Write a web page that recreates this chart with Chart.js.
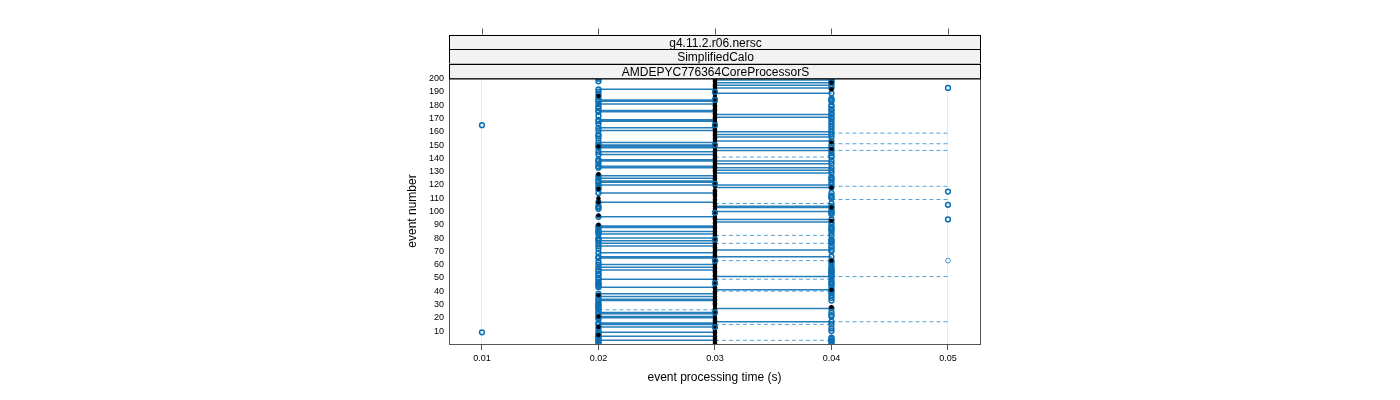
<!DOCTYPE html>
<html>
<head>
<meta charset="utf-8">
<script src="https://cdn.jsdelivr.net/npm/chart.js@4/dist/chart.umd.min.js"></script>
<style>
  body { margin: 0; background: #fff; }
  #wrap { width: 1400px; height: 400px; }
</style>
</head>
<body>
<div id="wrap"><canvas id="timing" width="1400" height="400"></canvas></div>
<script>
// ---- data (event numbers per kind of mark) ----
const stripLabels = ["g4.11.2.r06.nersc", "SimplifiedCalo", "AMDEPYC776364CoreProcessorS"];
const xTicks = [0.01, 0.02, 0.03, 0.04, 0.05];
const yTicks = [10, 20, 30, 40, 50, 60, 70, 80, 90, 100, 110, 120, 130, 140, 150, 160, 170, 180, 190, 200];
const nEvents = 200;

// solid lines 0.02 -> 0.03
const leftSolid = [192, 184, 183, 181, 176, 175, 169, 168, 163, 161, 152, 150, 149, 148, 145, 143, 139, 138, 134,
  133, 127, 125, 123, 122, 120, 114, 107, 96, 89, 88, 85, 83, 80, 78, 76, 74, 69, 66,
  65, 60, 58, 56, 49, 43, 38, 36, 34, 33, 24, 23, 21, 20, 16, 15, 13, 9, 6, 3];
const leftDashed = [26];
// solid / dashed lines 0.03 -> 0.04
const rightSolid = [199, 197, 195, 193, 189, 173, 171, 160, 158, 156, 153, 148, 146, 138, 136, 133, 131, 129,
  120, 118, 104, 103, 100, 94, 92, 71, 66, 51, 41, 27, 17];
const rightDashed = [141, 106, 82, 76, 63, 49, 40, 15, 3];
// dashed lines 0.04 -> 0.05
const farDashed = [159, 151, 146, 119, 109, 51, 17];

// open circles
const circles001 = [165, 9];
const circles002Extra = [200, 198, 190, 188, 186, 179, 178, 172, 166, 158, 157, 155, 136, 118, 117, 104, 103, 102, 86, 84,
  79, 72, 62, 55, 53, 52, 50, 47, 46, 45, 44, 31, 30, 29, 28, 27, 19, 11, 8, 7, 5, 4, 2, 1];
const circles003 = [190, 184, 165, 150, 121, 99, 79, 63, 46, 24, 13];
const circles004Extra = [200, 198, 185, 184, 183, 180, 179, 177, 176, 174, 170, 168, 166, 164, 162, 150, 144, 142, 126, 125,
  124, 122, 114, 112, 111, 110, 101, 99, 98, 90, 88, 87, 86, 84, 79, 78, 77, 74, 73, 70, 62, 60, 58, 57, 56, 55, 54,
  53, 52, 47, 46, 45, 43, 39, 37, 35, 33, 24, 22, 21, 12, 10, 5, 4, 2, 1];
const circles005 = [193, 115, 105, 94];
const circles005Light = [63];

// filled black dots
const black002 = [187, 149, 128, 117, 110, 107, 97, 90, 37, 21, 13, 7];
const black004 = [197, 192, 152, 147, 118, 103, 93, 63, 41, 28];

const BLUE = "rgba(0, 105, 175, 0.85)";
const BLUE_DASH = "rgba(30, 130, 200, 0.75)";

// build broken line data: one segment per event, split by NaN points
function segments(events, x0, x1) {
  const pts = [];
  events.forEach(e => {
    pts.push({ x: x0, y: e }, { x: x1, y: e }, { x: NaN, y: NaN });
  });
  return pts;
}
const atX = (events, x) => events.map(e => ({ x: x, y: e }));

const black003 = [];
for (let e = 1; e <= nEvents; e++) {
  if (!black002.includes(e) && !black004.includes(e)) black003.push(e);
}

// frame, strips, top ticks and axis titles
const decorations = {
  id: "decorations",
  afterDraw(chart) {
    const { ctx, chartArea } = chart;
    const xs = chart.scales.x;
    const L = chartArea.left, R = chartArea.right, T = chartArea.top, B = chartArea.bottom;
    ctx.save();
    // frame
    ctx.strokeStyle = "#555";
    ctx.lineWidth = 1;
    ctx.strokeRect(L + 0.5, T + 0.5, R - L, B - T);
    // strips
    const stripH = 14.5;
    ctx.font = "12px 'Liberation Sans', Arial, sans-serif";
    ctx.textAlign = "center";
    ctx.textBaseline = "middle";
    stripLabels.forEach((lab, i) => {
      const y0 = T - stripH * (stripLabels.length - i);
      ctx.fillStyle = "#f2f2f2";
      ctx.fillRect(L, y0, R - L + 1, stripH);
      ctx.strokeStyle = "#000";
      ctx.strokeRect(L + 0.5, Math.round(y0) + 0.5, R - L, stripH);
      ctx.fillStyle = "#000";
      ctx.fillText(lab, (L + R) / 2 + 1, y0 + stripH / 2 + 1.5);
    });
    // top tick marks
    const topY = T - stripH * stripLabels.length;
    ctx.strokeStyle = "#555";
    xTicks.forEach(v => {
      const px = Math.round(xs.getPixelForValue(v)) + 0.5;
      ctx.beginPath();
      ctx.moveTo(px, topY);
      ctx.lineTo(px, topY - 6);
      ctx.stroke();
    });
    // axis titles
    ctx.fillStyle = "#000";
    ctx.font = "12px 'Liberation Sans', Arial, sans-serif";
    ctx.fillText("event processing time (s)", (L + R) / 2, 378);
    ctx.translate(413, (T + B) / 2);
    ctx.rotate(-Math.PI / 2);
    ctx.fillText("event number", 0, 0);
    ctx.restore();
  }
};

const lineBase = { showLine: true, pointRadius: 0, pointHoverRadius: 0, spanGaps: false, fill: false };
const circleBase = { showLine: false, pointStyle: "circle", pointRadius: 2.4, borderWidth: 1.5,
  backgroundColor: "rgba(255,255,255,0)", borderColor: "#0b6fb3" };

new Chart(document.getElementById("timing"), {
  type: "scatter",
  data: {
    datasets: [
      { ...lineBase, data: segments(leftSolid, 0.02, 0.03), borderColor: BLUE, borderWidth: 1.5, order: 9 },
      { ...lineBase, data: segments(rightSolid, 0.03, 0.04), borderColor: BLUE, borderWidth: 1.5, order: 9 },
      { ...lineBase, data: segments(leftDashed, 0.02, 0.03), borderColor: BLUE_DASH, borderWidth: 1, borderDash: [4, 3], order: 9 },
      { ...lineBase, data: segments(rightDashed, 0.03, 0.04), borderColor: BLUE_DASH, borderWidth: 1, borderDash: [4, 3], order: 9 },
      { ...lineBase, data: segments(farDashed, 0.04, 0.05), borderColor: BLUE_DASH, borderWidth: 1, borderDash: [4, 3], order: 9 },
      { ...circleBase, data: atX(black003, 0.03), pointRadius: 2.2, borderWidth: 0, backgroundColor: "#000", order: 5 },
      { ...circleBase, data: atX(leftSolid.concat(leftDashed, circles002Extra), 0.02), order: 3 },
      { ...circleBase, data: atX(rightSolid.concat(rightDashed, circles004Extra), 0.04), order: 3 },
      { ...circleBase, data: atX(circles001, 0.01), order: 3 },
      { ...circleBase, data: atX(circles003, 0.03), order: 3 },
      { ...circleBase, data: atX(circles005, 0.05), order: 3 },
      { ...circleBase, data: atX(circles005Light, 0.05), borderWidth: 1, borderColor: "rgba(30,130,200,0.8)", order: 3 },
      { ...circleBase, data: atX(black002, 0.02), pointRadius: 2.2, borderWidth: 0, backgroundColor: "#000", order: 1 },
      { ...circleBase, data: atX(black004, 0.04), pointRadius: 2.2, borderWidth: 0, backgroundColor: "#000", order: 1 }
    ]
  },
  options: {
    responsive: false,
    animation: false,
    layout: { padding: { left: 0, right: 420, top: 78, bottom: 0 } },
    plugins: { legend: { display: false }, tooltip: { enabled: false } },
    scales: {
      x: {
        type: "linear",
        min: 0.00717,
        max: 0.05275,
        afterBuildTicks: s => { s.ticks = xTicks.map(v => ({ value: v })); },
        afterFit: s => { s.height = 56; },
        border: { display: false },
        grid: { color: "#ebebeb", lineWidth: 1, drawTicks: true, tickLength: 6, tickColor: "#555" },
        ticks: { padding: 3, color: "#000", maxRotation: 0, font: { family: "'Liberation Sans', Arial, sans-serif", size: 9 },
          callback: v => v.toFixed(2) }
      },
      y: {
        type: "linear",
        min: 0.24,
        max: 200.5,
        afterBuildTicks: s => { s.ticks = yTicks.map(v => ({ value: v })); },
        afterFit: s => { s.width = 449; },
        border: { display: false },
        grid: { display: false, drawTicks: false },
        ticks: { padding: 5, color: "#000", font: { family: "'Liberation Sans', Arial, sans-serif", size: 9 } }
      }
    }
  },
  plugins: [decorations]
});
</script>
</body>
</html>
